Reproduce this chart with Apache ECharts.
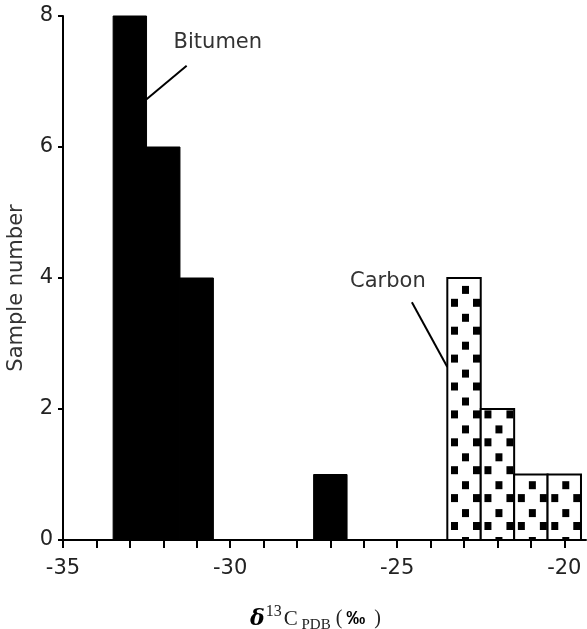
<!DOCTYPE html>
<html><head><meta charset="utf-8">
<script src="https://cdn.jsdelivr.net/npm/echarts@6/dist/echarts.min.js"></script>
<style>html,body{margin:0;padding:0;background:#fff}#c{width:587px;height:629px}</style>
</head><body><div id="c"></div>
<script>
// ---- data ----
const bitumenBinStart = [-33.5, -32.5, -31.5, -27.5];
const bitumenCounts   = [8, 6, 4, 1];
const carbonBinStart  = [-23.5, -22.5, -21.5, -20.5];
const carbonCounts    = [4, 2, 1, 1];
const binWidth = 1;
const xTickValues  = [-35,-34,-33,-32,-31,-30,-29,-28,-27,-26,-25,-24,-23,-22,-21,-20];
const xLabelValues = [-35, -30, -25, -20];
const yLabelValues = [0, 2, 4, 6, 8];
const bitumenLabel  = ['Bitumen', -31.69, 7.59];
const bitumenLeader = [[-32.5, 6.73], [-31.30, 7.24]];
const carbonLabel   = ['Carbon', -26.41, 3.94];
const carbonLeader  = [[-24.56, 3.63], [-23.5, 2.64]];

const chart = echarts.init(document.getElementById('c'), null, {renderer: 'canvas'});
const labelFont = 'DejaVu Sans';

function renderBitumen(params, api) {
  const x0 = api.value(0), v = api.value(1);
  const pTop = api.coord([x0, v]), pBase = api.coord([x0 + binWidth, 0]);
  return {type: 'rect', shape: {x: pTop[0], y: pTop[1], width: pBase[0] - pTop[0], height: pBase[1] - pTop[1]},
          style: {fill: '#000', stroke: '#000', lineWidth: 1}};
}
function renderCarbon(params, api) {
  const x0 = api.value(0), v = api.value(1);
  const pTop = api.coord([x0, v]), pBase = api.coord([x0 + binWidth, 0]);
  const left = pTop[0], right = pBase[0], top = pTop[1], base = pBase[1];
  const children = [{type: 'rect', shape: {x: left, y: top, width: right - left, height: base - top}, style: {fill: '#fff'}}];
  const cx = (left + right) / 2;
  const cols = [[-9.5, 'side'], [1.5, 'mid'], [12.5, 'side']];
  const period = 27.9, sw = 7, sh = 8;
  cols.forEach(function (c) {
    const dx = c[0];
    const start = c[1] === 'mid' ? base + 1 : base - 14;
    for (let yc = start; yc + sh / 2 > top; yc -= period) {
      const sx0 = Math.max(cx + dx - sw / 2, left), sx1 = Math.min(cx + dx + sw / 2, right);
      const sy0 = Math.max(yc - sh / 2, top), sy1 = Math.min(yc + sh / 2, base);
      if (sx1 > sx0 && sy1 > sy0) {
        children.push({type: 'rect', shape: {x: sx0, y: sy0, width: sx1 - sx0, height: sy1 - sy0}, style: {fill: '#000'}});
      }
    }
  });
  children.push({type: 'rect', shape: {x: left, y: top, width: right - left, height: base - top},
                 style: {fill: 'none', stroke: '#000', lineWidth: 2}});
  return {type: 'group', children: children};
}

chart.setOption({
  animation: false,
  backgroundColor: '#fff',
  grid: {left: 63, right: 1, top: 16, bottom: 89, outerBoundsMode: 'none', containLabel: false},
  xAxis: {
    type: 'value', min: -35, max: -19.35, interval: 1,
    axisLine: {show: true, onZero: false, lineStyle: {color: '#000', width: 2}},
    axisTick: {show: true, length: 8, lineStyle: {color: '#000', width: 2}, customValues: xTickValues},
    axisLabel: {customValues: xLabelValues, margin: 18, fontSize: 21, color: '#222', fontFamily: labelFont},
    splitLine: {show: false},
    name: '{d|δ}{sup|13}{c|C}{sub| PDB}{p| (}{pm|‰}{p| )}',
    nameLocation: 'middle', nameGap: 64,
    nameTextStyle: {
      padding: [0, 18, 0, 0],
      rich: {
        d: {fontFamily: 'DejaVu Serif', fontWeight: 'bold', fontStyle: 'italic', fontSize: 22, color: '#000', lineHeight: 30},
        sup: {fontFamily: 'Liberation Serif', fontSize: 16, color: '#222', padding: [0, 0, 14, 1], lineHeight: 30},
        c: {fontFamily: 'Liberation Serif', fontSize: 21, color: '#222', padding: [0, 0, 0, 2], lineHeight: 30},
        sub: {fontFamily: 'Liberation Serif', fontSize: 15, color: '#222', padding: [12, 0, 0, 0], lineHeight: 30},
        p: {fontFamily: 'Liberation Serif', fontSize: 20, color: '#222', lineHeight: 30},
        pm: {fontFamily: 'Liberation Sans', fontWeight: 'bold', fontSize: 19, color: '#000', padding: [0, 4, 0, 4], lineHeight: 30}
      }
    }
  },
  yAxis: {
    type: 'value', min: 0, max: 8, interval: 2,
    axisLine: {show: true, lineStyle: {color: '#000', width: 2}},
    axisTick: {show: true, length: 5, lineStyle: {color: '#000', width: 2}},
    axisLabel: {customValues: yLabelValues, margin: 10, fontSize: 21, color: '#222', fontFamily: labelFont},
    splitLine: {show: false},
    name: 'Sample number', nameLocation: 'middle', nameGap: 36,
    nameTextStyle: {fontSize: 21, color: '#333', fontFamily: labelFont, padding: [0, 20, 0, 0]}
  },
  series: [
    {type: 'custom', name: 'Bitumen', renderItem: renderBitumen, encode: {x: 0, y: 1},
     data: bitumenBinStart.map(function (s, i) { return [s, bitumenCounts[i]]; })},
    {type: 'custom', name: 'Carbon', renderItem: renderCarbon, encode: {x: 0, y: 1},
     data: carbonBinStart.map(function (s, i) { return [s, carbonCounts[i]]; })}
  ]
});

function px(p) { return chart.convertToPixel({gridIndex: 0}, p); }
function textEl(lbl) {
  const p = px([lbl[1], lbl[2]]);
  return {type: 'text', x: p[0], y: p[1], style: {text: lbl[0], fill: '#333', font: '21px "DejaVu Sans"', verticalAlign: 'middle', align: 'left'}};
}
function lineEl(seg) {
  const a = px(seg[0]), b = px(seg[1]);
  return {type: 'line', shape: {x1: a[0], y1: a[1], x2: b[0], y2: b[1]}, style: {stroke: '#000', lineWidth: 2}};
}
chart.setOption({graphic: [textEl(bitumenLabel), lineEl(bitumenLeader), textEl(carbonLabel), lineEl(carbonLeader)]});
</script></body></html>
